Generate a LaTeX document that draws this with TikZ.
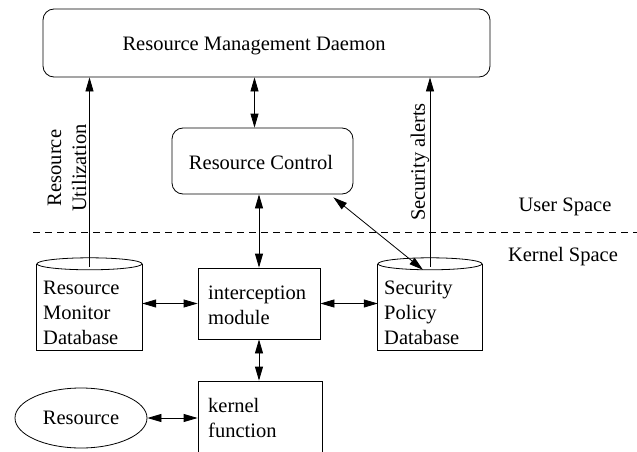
\documentclass[tikz,border=0pt]{standalone}
\usepackage{fontspec}
\setmainfont{Liberation Serif}
\usetikzlibrary{arrows.meta,calc,shapes.geometric}
\begin{document}
\begin{tikzpicture}[x=1pt,y=-1pt,
  font=\fontsize{20.5}{25}\selectfont,
  box/.style={draw,line width=0.8pt,inner sep=0pt},
  rbox/.style={box,rounded corners=11pt},
  lbl/.style={inner sep=0pt,align=left},
  arr/.style={line width=0.8pt,-{Triangle[length=14pt,width=8pt]}},
  dbl/.style={line width=0.8pt,{Triangle[length=14pt,width=8pt]}-{Triangle[length=14pt,width=8pt]}},
  cyl/.style={inner sep=0pt},
  line/.style={line width=0.8pt}]
\clip (0,0) rectangle (637,452);
% boxes
\node[rbox,minimum width=447pt,minimum height=68pt] (daemon) at (266.5,43) {};
\node[lbl] (daemont) at (254,46) {Resource Management Daemon};
\node[rbox,minimum width=181pt,minimum height=66pt] (rc) at (262.5,161) {};
\node[lbl] (rct) at (261,162) {Resource Control};
\node[box,minimum width=122pt,minimum height=71pt] (im) at (259,303.5) {};
\node[lbl,anchor=west] (imt) at (208,305.5) {interception\\module};
\node[box,minimum width=124pt,minimum height=100pt] (kf) at (260,431) {};
\node[lbl,anchor=west] (kft) at (208,417.5) {kernel\\function};
\node[draw,ellipse,line width=0.8pt,inner sep=0pt,minimum width=132pt,minimum height=60pt] (res) at (81,418) {Resource};
% cylinders
\node[cyl,minimum width=105pt,minimum height=86pt] (rmd) at (89.5,307) {};
\draw[line] (rmd.north west) -- (rmd.south west) -- (rmd.south east) -- (rmd.north east);
\draw[line] (rmd.north) ellipse [x radius=52.5pt,y radius=6pt];
\node[lbl,anchor=west] (rmdt) at (43,313) {Resource\\Monitor\\Database};
\node[cyl,minimum width=104pt,minimum height=86pt] (spd) at (430,307) {};
\draw[line] (spd.north west) -- (spd.south west) -- (spd.south east) -- (spd.north east);
\draw[line] (spd.north) ellipse [x radius=52pt,y radius=6pt];
\node[lbl,anchor=west] (spdt) at (384,313) {Security\\Policy\\Database};
% dashed separator
\coordinate (dl) at (33,232);
\coordinate (dr) at (637,232);
\draw[line,dash pattern=on 7pt off 5pt] (dl) -- (dr);
\node[lbl] (us) at (565,207) {User Space};
\node[lbl] (ks) at (563,257) {Kernel Space};
% helper coordinates
\coordinate (rcup) at ($(rc.north)+(-8,0)$);
\coordinate (rmdtop) at ($(rmd.north)+(0,3)$);
\coordinate (spdtop) at ($(spd.north)+(0,3)$);
\coordinate (rcse) at ($(rc.south east)+(-20,3)$);
\coordinate (spdin) at ($(spd.north)+(-7,6)$);
% connectors
\draw[arr] (rmdtop) -- (rmdtop |- daemon.south);
\draw[arr] (spdtop) -- (spdtop |- daemon.south);
\draw[dbl] (rcup) -- (rcup |- daemon.south);
\draw[dbl] (im.north) -- (im.north |- rc.south);
\draw[dbl] (rcse) -- (spdin);
\draw[dbl] (rmd.east |- im.west) -- (im.west);
\draw[dbl] (im.east) -- (spd.west |- im.east);
\draw[dbl] (im.south) -- (im.south |- kf.north);
\draw[dbl] (res.east) -- (res.east -| kf.west);
% rotated labels
\node[lbl,rotate=90,align=center] (ru) at (67,168) {Resource\\Utilization};
\node[lbl,rotate=90] (sa) at (420,162) {Security alerts};
\end{tikzpicture}
\end{document}
